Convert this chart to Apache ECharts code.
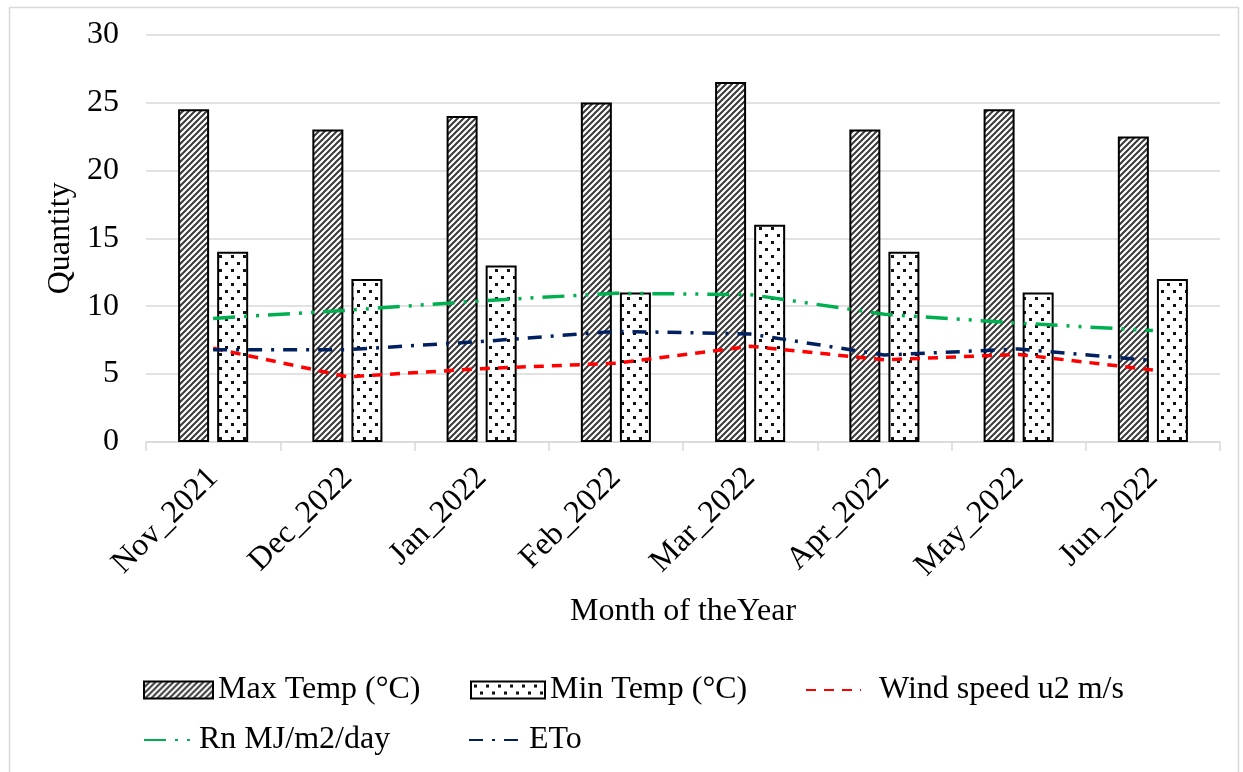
<!DOCTYPE html>
<html>
<head>
<meta charset="utf-8">
<title>Weather by month</title>
<script src="https://cdn.jsdelivr.net/npm/echarts@6/dist/echarts.min.js"></script>
<style>
  html, body { margin: 0; padding: 0; background: #fff; }
  #chart { width: 1243px; height: 772px; }
</style>
</head>
<body>
<div id="chart"></div>
<script>
// data
const months = ['Nov_2021', 'Dec_2022', 'Jan_2022', 'Feb_2022', 'Mar_2022', 'Apr_2022', 'May_2022', 'Jun_2022'];
const maxTemp = [24.5, 23, 24, 25, 26.5, 23, 24.5, 22.5];
const minTemp = [14, 12, 13, 11, 16, 14, 11, 12];
const windSpeed = [6.9, 4.8, 5.4, 5.8, 7.05, 6.05, 6.45, 5.3];
const rn = [9.1, 9.7, 10.4, 10.95, 10.85, 9.4, 8.75, 8.2];
const eto = [6.8, 6.8, 7.4, 8.15, 7.95, 6.4, 6.85, 6.0];
const yTicks = [0, 5, 10, 15, 20, 25, 30];

const FONT = '"Liberation Serif", "Times New Roman", serif';

// hatch pattern for max temp bars
function hatchPattern() {
  const c = document.createElement('canvas');
  c.width = 6; c.height = 6;
  const ctx = c.getContext('2d');
  ctx.fillStyle = '#fff';
  ctx.fillRect(0, 0, 6, 6);
  ctx.strokeStyle = '#3a3a3a';
  ctx.lineWidth = 2;
  ctx.beginPath();
  ctx.moveTo(-1, 7); ctx.lineTo(7, -1);
  ctx.moveTo(-4, 4); ctx.lineTo(4, -4);
  ctx.moveTo(2, 10); ctx.lineTo(10, 2);
  ctx.stroke();
  return c;
}

// dotted pattern for min temp bars
function dotPattern() {
  const c = document.createElement('canvas');
  c.width = 12; c.height = 14;
  const ctx = c.getContext('2d');
  ctx.fillStyle = '#fff';
  ctx.fillRect(0, 0, 12, 14);
  ctx.fillStyle = '#111';
  ctx.fillRect(3, 3, 3, 3);
  ctx.fillRect(9, 10, 3, 3);
  return c;
}

const chart = echarts.init(document.getElementById('chart'));

const legendText = { fontFamily: FONT, fontSize: 32, color: '#000' };
function legendAt(name, left, top, w, isLine, gapLeft) {
  const l = {
    data: [isLine ? name : { name: name, icon: 'rect' }],
    left: left, top: top, padding: 0,
    itemWidth: w, itemHeight: 17,
    textStyle: Object.assign({ padding: [0, 0, 0, gapLeft || 0] }, legendText),
    selectedMode: false
  };
  // hide the marker dot on line icons, keep the dashed line
  if (isLine) l.itemStyle = { opacity: 0 };
  return l;
}

const option = {
  backgroundColor: '#fff',
  animation: false,
  graphic: [{
    type: 'rect', left: 7, top: 5,
    shape: { width: 1229, height: 780 },
    style: { fill: 'none', stroke: '#d9d9d9', lineWidth: 1.5 },
    silent: true
  }],
  grid: { left: 146, right: 23, top: 34.5, bottom: 330 },
  legend: [
    legendAt('Max Temp (°C)', 143, 674, 69, false),
    legendAt('Min Temp (°C)', 470, 674, 74, false),
    legendAt('Wind speed u2 m/s', 805, 674, 55, true, 13),
    legendAt('Rn MJ/m2/day', 143, 724, 50, true),
    legendAt('ETo', 468, 724, 55, true)
  ],
  xAxis: {
    type: 'category',
    data: months,
    name: 'Month of theYear',
    nameLocation: 'middle',
    nameGap: 154,
    nameTextStyle: { fontFamily: FONT, fontSize: 32, color: '#000' },
    axisLine: { lineStyle: { color: '#d9d9d9', width: 1.5 } },
    axisTick: { show: true, length: 9, lineStyle: { color: '#d9d9d9', width: 1.5 } },
    axisLabel: { rotate: 45, margin: 31, fontFamily: FONT, fontSize: 32, color: '#000' }
  },
  yAxis: {
    type: 'value',
    min: yTicks[0],
    max: yTicks[yTicks.length - 1],
    interval: yTicks[1] - yTicks[0],
    name: 'Quantity',
    nameLocation: 'middle',
    nameGap: 61,
    nameTextStyle: { fontFamily: FONT, fontSize: 32, color: '#000' },
    axisLine: { show: false },
    axisTick: { show: false },
    axisLabel: { margin: 27, fontFamily: FONT, fontSize: 32, color: '#000' },
    splitLine: { lineStyle: { color: '#d9d9d9', width: 1.5 } }
  },
  series: [
    {
      name: 'Max Temp (°C)',
      type: 'bar',
      data: maxTemp,
      barWidth: 31,
      barGap: '26%',
      itemStyle: { color: { image: hatchPattern(), repeat: 'repeat' }, borderColor: '#000', borderWidth: 2 }
    },
    {
      name: 'Min Temp (°C)',
      type: 'bar',
      data: minTemp,
      barWidth: 31,
      itemStyle: { color: { image: dotPattern(), repeat: 'repeat' }, borderColor: '#000', borderWidth: 2 }
    },
    {
      name: 'Wind speed u2 m/s',
      type: 'line',
      data: windSpeed,
      symbol: 'none',
      lineStyle: { color: '#ff0000', width: 3.5, type: [10, 8] },
      itemStyle: { color: '#ff0000' }
    },
    {
      name: 'Rn MJ/m2/day',
      type: 'line',
      data: rn,
      symbol: 'none',
      lineStyle: { color: '#00b050', width: 3.5, type: [22, 9, 3, 9, 3, 9] },
      itemStyle: { color: '#00b050' }
    },
    {
      name: 'ETo',
      type: 'line',
      data: eto,
      symbol: 'none',
      lineStyle: { color: '#002060', width: 3.5, type: [14, 9, 3, 9] },
      itemStyle: { color: '#002060' }
    }
  ]
};

chart.setOption(option);
</script>
</body>
</html>
